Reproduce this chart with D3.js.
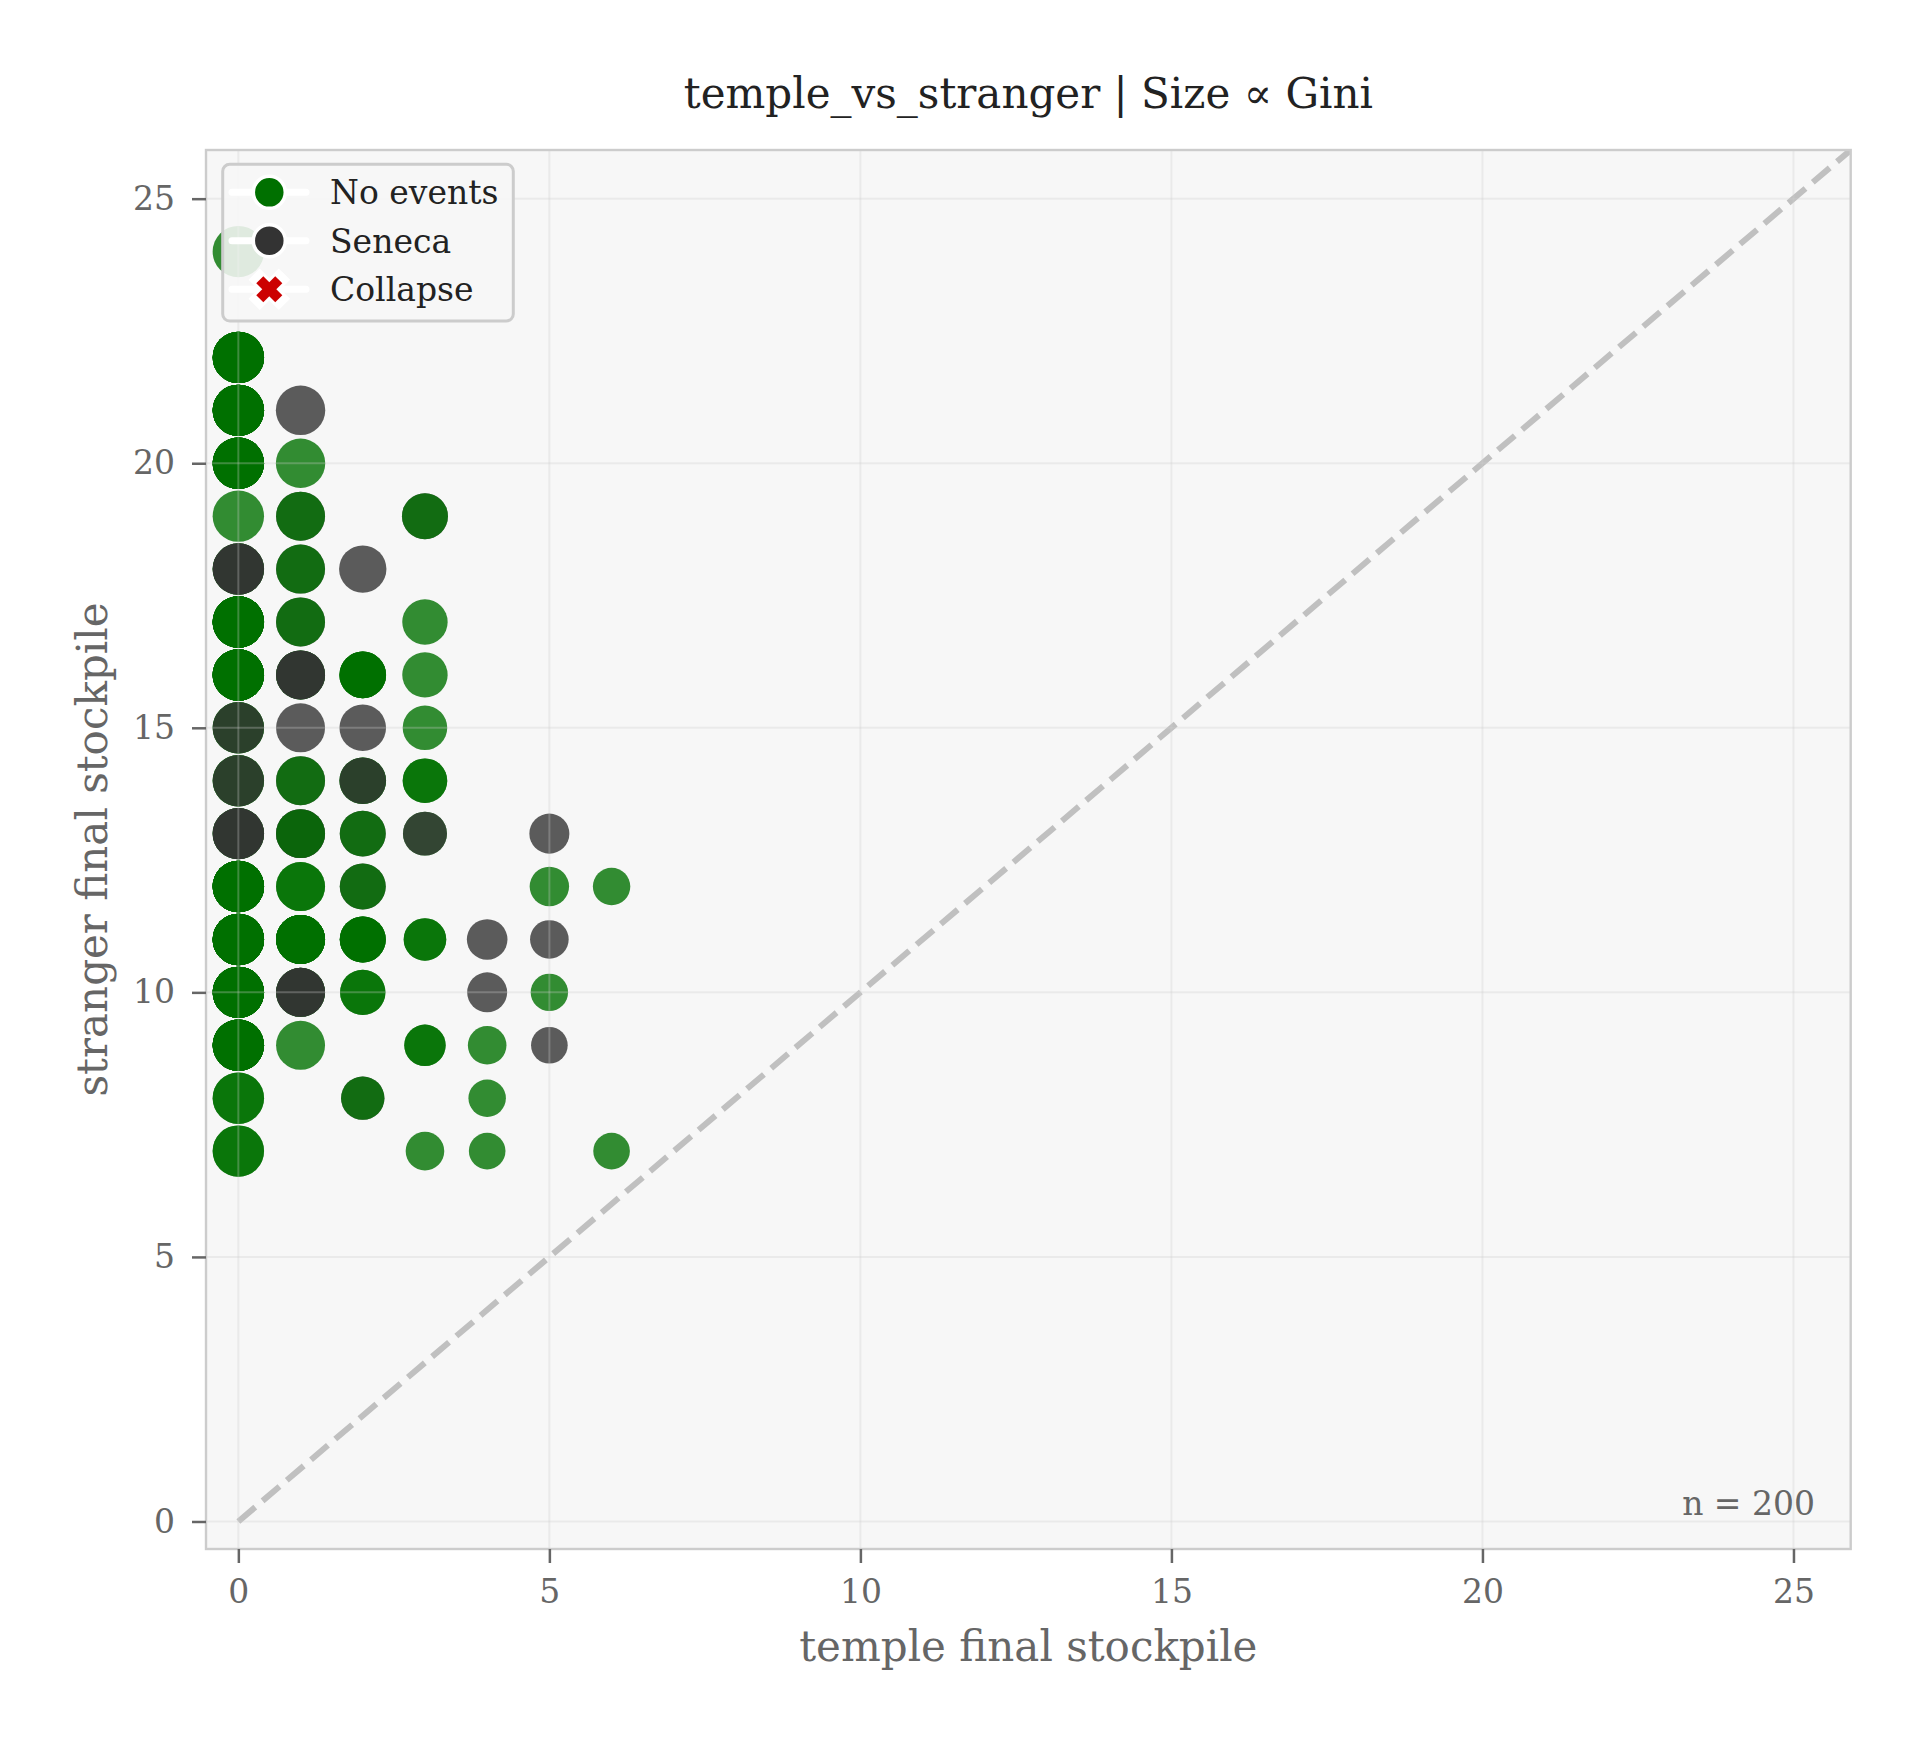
<!DOCTYPE html>
<html>
<head>
<meta charset="utf-8">
<script src="https://cdn.jsdelivr.net/npm/d3@7"></script>
<style>
  body { margin: 0; background: #ffffff; }
  svg { display: block; }
</style>
</head>
<body>
<div id="chart"></div>
<script>
// ---------------- data ----------------
const titleText = "temple_vs_stranger | Size \u221D Gini";
const xLabelText = "temple final stockpile";
const yLabelText = "stranger final stockpile";
const xTickValues = [0, 5, 10, 15, 20, 25];
const yTickValues = [0, 5, 10, 15, 20, 25];
const legendLabels = ["No events", "Seneca", "Collapse"];
const runCount = 200;

// one entry per occupied (temple, stranger) cell; events string lists runs in draw order
// N = no events, S = Seneca
const clusterTemple = [
  0,0,0,0,0,0,0,0,0,0,0,0,0,0,0,0,0,
  1,1,1,1,1,1,1,1,1,1,1,1,1,
  2,2,2,2,2,2,2,2,2,
  3,3,3,3,3,3,3,3,3,
  4,4,4,4,4,
  5,5,5,5,5,
  6,6
];
const clusterStranger = [
  24,22,21,20,19,18,17,16,15,14,13,12,11,10,9,8,7,
  21,20,19,18,17,16,15,14,13,12,11,10,9,
  18,16,15,14,13,12,11,10,8,
  19,17,16,15,14,13,11,9,7,
  11,10,9,8,7,
  13,12,11,10,9,
  12,7
];
const clusterEvents = [
  "N","NNNNNNNN","NNNNNNNNNN","NNNNNNNNNN","N","NNSS","NNNNNNNNNNNN","NNNNNNNNNNNN",
  "NNS","NNS","NNSS","NNNNNNNNNNNN","NNNNNNNNNNNNNN","NNNNNNNNNNNN","NNNNNNNNNN","NN","NN",
  "S","N","SN","SN","SN","NNSS","S","SN","SSN","NN","NNNNNNNN","NNSS","N",
  "S","NNNN","S","NNS","SN","SN","NNNN","NN","SN",
  "SN","N","N","N","NN","NS","NN","NN","N",
  "S","S","N","N","N",
  "S","N","S","N","S",
  "N","N"
];
const clusterGini = [
  0.50,0.50,0.50,0.50,0.50,0.50,0.50,0.50,0.50,0.50,0.50,0.50,0.50,0.50,0.50,0.50,0.50,
  0.462,0.462,0.454,0.454,0.454,0.454,0.454,0.454,0.454,0.454,0.454,0.454,0.454,
  0.424,0.411,0.411,0.411,0.400,0.400,0.400,0.390,0.356,
  0.400,0.390,0.390,0.376,0.376,0.366,0.343,0.324,0.282,
  0.312,0.303,0.282,0.265,0.254,
  0.303,0.294,0.282,0.265,0.254,
  0.265,0.254
];

// ---------------- layout & styles ----------------
const W = 1924, H = 1744;
const plot = { left: 206, right: 1850.7, top: 150, bottom: 1549 };
const FONT = "'DejaVu Serif', 'Liberation Serif', serif";
const eventColor = { N: "#007000", S: "#333333" };
const collapseColor = "#cc0000";

const svg = d3.select("#chart").append("svg")
  .attr("width", W).attr("height", H)
  .attr("viewBox", `0 0 ${W} ${H}`);

const x = d3.scaleLinear().domain([-0.52, 25.92]).range([plot.left, plot.right]);
const y = d3.scaleLinear().domain([-0.52, 25.92]).range([plot.bottom, plot.top]);
const r = d3.scaleSqrt().domain([0, 0.5]).range([0, 25.7]);

// plot background
svg.append("rect")
  .attr("x", plot.left).attr("y", plot.top)
  .attr("width", plot.right - plot.left).attr("height", plot.bottom - plot.top)
  .attr("fill", "#f7f7f7");

svg.append("defs").append("clipPath").attr("id", "clip")
  .append("rect")
  .attr("x", plot.left).attr("y", plot.top)
  .attr("width", plot.right - plot.left).attr("height", plot.bottom - plot.top);

const inner = svg.append("g").attr("clip-path", "url(#clip)");

// diagonal y = x
const diagMax = x.domain()[1];
inner.append("line")
  .attr("x1", x(0)).attr("y1", y(0))
  .attr("x2", x(diagMax)).attr("y2", y(diagMax))
  .attr("stroke", "#c0c0c0")
  .attr("stroke-width", 6)
  .attr("stroke-dasharray", "22.2 9.6");

// points
const points = [];
clusterTemple.forEach((t, i) => {
  for (const ev of clusterEvents[i]) {
    points.push({ temple: t, stranger: clusterStranger[i], event: ev, gini: clusterGini[i] });
  }
});

inner.append("g").selectAll("circle")
  .data(points)
  .join("circle")
  .attr("cx", d => x(d.temple))
  .attr("cy", d => y(d.stranger))
  .attr("r", d => r(d.gini))
  .attr("fill", d => eventColor[d.event])
  .attr("fill-opacity", 0.8);

// grid (drawn over points, light & translucent)
const grid = inner.append("g")
  .attr("stroke", "#cccccc").attr("stroke-opacity", 0.3).attr("stroke-width", 2);
grid.selectAll("line.gx").data(xTickValues).join("line")
  .attr("class", "gx")
  .attr("x1", d => x(d)).attr("x2", d => x(d))
  .attr("y1", plot.top).attr("y2", plot.bottom);
grid.selectAll("line.gy").data(yTickValues).join("line")
  .attr("class", "gy")
  .attr("y1", d => y(d)).attr("y2", d => y(d))
  .attr("x1", plot.left).attr("x2", plot.right);

// frame
svg.append("rect")
  .attr("x", plot.left).attr("y", plot.top)
  .attr("width", plot.right - plot.left).attr("height", plot.bottom - plot.top)
  .attr("fill", "none").attr("stroke", "#cccccc").attr("stroke-width", 2.4);

// axes
function styleAxis(g) {
  g.select(".domain").remove();
  g.selectAll(".tick line").attr("stroke", "#666666").attr("stroke-width", 2.5);
  g.selectAll(".tick text")
    .attr("fill", "#666666")
    .style("font-family", FONT)
    .style("font-size", "33px");
}
svg.append("g")
  .attr("transform", `translate(0,${plot.bottom})`)
  .call(d3.axisBottom(x).tickValues(xTickValues).tickSize(14).tickPadding(17).tickFormat(d3.format("d")))
  .call(styleAxis);
svg.append("g")
  .attr("transform", `translate(${plot.left},0)`)
  .call(d3.axisLeft(y).tickValues(yTickValues).tickSize(14).tickPadding(17).tickFormat(d3.format("d")))
  .call(styleAxis);

// labels
svg.append("text")
  .attr("x", (plot.left + plot.right) / 2).attr("y", 108)
  .attr("text-anchor", "middle")
  .attr("fill", "#222222")
  .style("font-family", FONT).style("font-size", "42px")
  .text(titleText);

svg.append("text")
  .attr("x", (plot.left + plot.right) / 2).attr("y", 1661)
  .attr("text-anchor", "middle")
  .attr("fill", "#666666")
  .style("font-family", FONT).style("font-size", "42px")
  .text(xLabelText);

svg.append("text")
  .attr("transform", `translate(107,${(plot.top + plot.bottom) / 2}) rotate(-90)`)
  .attr("text-anchor", "middle")
  .attr("fill", "#666666")
  .style("font-family", FONT).style("font-size", "42px")
  .text(yLabelText);

// n annotation
svg.append("text")
  .attr("x", 1815).attr("y", 1515)
  .attr("text-anchor", "end")
  .attr("fill", "#666666")
  .style("font-family", FONT).style("font-size", "33px")
  .text(`n = ${runCount}`);

// legend
const leg = svg.append("g");
leg.append("rect")
  .attr("x", 222.7).attr("y", 164.3)
  .attr("width", 290.6).attr("height", 156.7)
  .attr("rx", 7).attr("ry", 7)
  .attr("fill", "#f7f7f7").attr("fill-opacity", 0.88)
  .attr("stroke", "#cccccc").attr("stroke-width", 3);

const rowY = [192.3, 240.7, 289.3];
const legendKinds = ["N", "S", "X"];
const rows = leg.selectAll("g.row").data(legendLabels).join("g").attr("class", "row")
  .attr("transform", (d, i) => `translate(0,${rowY[i]})`);

rows.append("line")
  .attr("x1", 232).attr("x2", 306).attr("y1", 0).attr("y2", 0)
  .attr("stroke", "#ffffff").attr("stroke-width", 7).attr("stroke-linecap", "round");

rows.each(function(d, i) {
  const g = d3.select(this);
  const kind = legendKinds[i];
  if (kind === "X") {
    const xg = g.append("g").attr("transform", "translate(269.3,0)");
    const arms = [[-9.5, -9.5, 9.5, 9.5], [-9.5, 9.5, 9.5, -9.5]];
    xg.selectAll("line.o").data(arms).join("line").attr("class", "o")
      .attr("x1", a => a[0]).attr("y1", a => a[1]).attr("x2", a => a[2]).attr("y2", a => a[3])
      .attr("stroke", "#ffffff").attr("stroke-width", 16).attr("stroke-linecap", "square");
    xg.selectAll("line.i").data(arms).join("line").attr("class", "i")
      .attr("x1", a => a[0]).attr("y1", a => a[1]).attr("x2", a => a[2]).attr("y2", a => a[3])
      .attr("stroke", collapseColor).attr("stroke-width", 10).attr("stroke-linecap", "butt");
  } else {
    g.append("circle")
      .attr("cx", 269.3).attr("cy", 0).attr("r", 16)
      .attr("fill", eventColor[kind])
      .attr("stroke", "#ffffff").attr("stroke-width", 3.5);
  }
});

rows.append("text")
  .attr("x", 330).attr("y", 12)
  .attr("fill", "#222222")
  .style("font-family", FONT).style("font-size", "33px")
  .text(d => d);
</script>
</body>
</html>
